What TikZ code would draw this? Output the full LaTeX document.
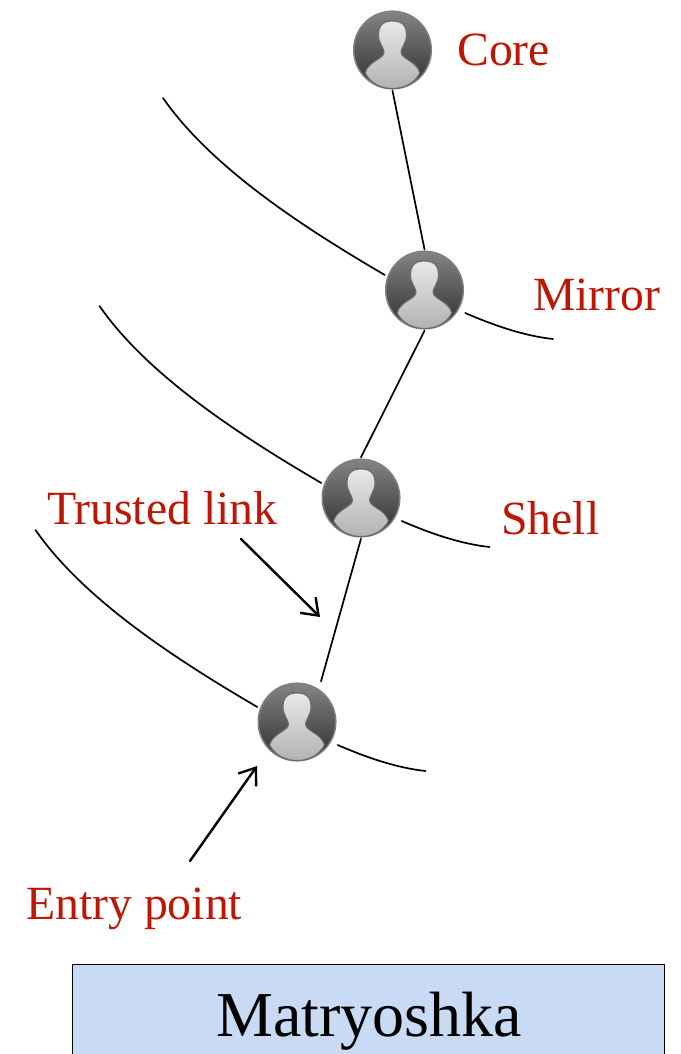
\documentclass[tikz,border=0pt]{standalone}
\usepackage{fontspec}
\setmainfont{Liberation Serif}
\usepackage{tikz}
\usetikzlibrary{
  calc,
  arrows.meta
}
\definecolor{labelred}{HTML}{BC1606}
\definecolor{boxblue}{HTML}{C9DAF5}
\tikzset{
  usericon/.style={rectangle,minimum width=79,minimum height=81,inner sep=0,
    path picture={
      \begin{scope}[shift={(path picture bounding box.center)}]
        \shade[top color=black!48,bottom color=black!82,draw=black!50,line width=1.5] (0,0) circle (38.8);
        \shade[top color=black!9,bottom color=black!30,draw=black!58,line width=1.1]
          (0,-29) .. controls (10,-29) and (14,-24) .. (14,-15)
          .. controls (14,-7) and (9,-3) .. (8.5,2)
          .. controls (8.5,9) and (24,11) .. (27.5,23)
          .. controls (22,33) and (12,38.5) .. (0,38.5)
          .. controls (-12,38.5) and (-22,33) .. (-27.5,23)
          .. controls (-24,11) and (-8.5,9) .. (-8.5,2)
          .. controls (-9,-3) and (-14,-7) .. (-14,-15)
          .. controls (-14,-24) and (-10,-29) .. (0,-29) -- cycle;
      \end{scope}
    }},
  tag/.style={anchor=base west,inner sep=0,text=labelred,font=\fontsize{47.7}{47.7}\selectfont},
  thinline/.style={line width=1.7,black},
  pointer/.style={line width=2.4,black,-{Straight Barb[length=15,width=22,line width=2.4]}}
}

\begin{document}
\begin{tikzpicture}[line cap=round,line join=round,x=1pt,y=-1pt]
\useasboundingbox (0,0) rectangle (680,1054);
\clip (0,0) rectangle (680,1054);

\node [usericon] (core) at (392.5,50) {};
\node [usericon] (mirror) at (424.5,290) {};
\node [usericon] (shell) at (361,498) {};
\node [usericon] (entry) at (297,722) {};

\node [tag] (coretext) at (457,65.5) {Core};
\node [tag] (mirrortext) at (533,310) {Mirror};
\node [tag] (shelltext) at (501,534) {Shell};
\node [tag] (trustedtext) at (47,524.5) {Trusted link};
\node [tag] (entrytext) at (26,919.5) {Entry point};

% links between the rings
\draw [thinline] (core.south) -- (mirror.north);
\draw [thinline] (mirror.south) -- (shell.north);
\draw [thinline] (shell.south) -- ([xshift=24]entry.north);

% rings
\foreach \ring in {mirror,shell,entry} {
  \coordinate (\ring left) at ($(\ring)+(-261.5,-192)$);
  \coordinate (\ring right) at ($(\ring)+(128.5,49)$);
  \draw [thinline] (\ring left) .. controls +(50,72) and +(-75,-44) .. ($(\ring.west)+(0,-15)$);
  \draw [thinline] ($(\ring.east)+(1,23)$) .. controls +(30,13) and +(-28,-3) .. (\ring right);
}

\coordinate (trustedfrom) at (241,539);
\coordinate (trustedto) at (320,617);
\coordinate (entryfrom) at (190,861);
\coordinate (entryto) at (257,766);
\draw [pointer] (trustedfrom) -- (trustedto);
\draw [pointer] (entryfrom) -- (entryto);

\node [draw=black,line width=1.6,fill=boxblue,minimum width=592,minimum height=110,anchor=north west,inner sep=0] (titlebox) at (71.5,963.5) {};
\node [anchor=base,inner sep=0,font=\fontsize{64}{64}\selectfont] (titletext) at (369,1036) {Matryoshka};
\end{tikzpicture}
\end{document}
